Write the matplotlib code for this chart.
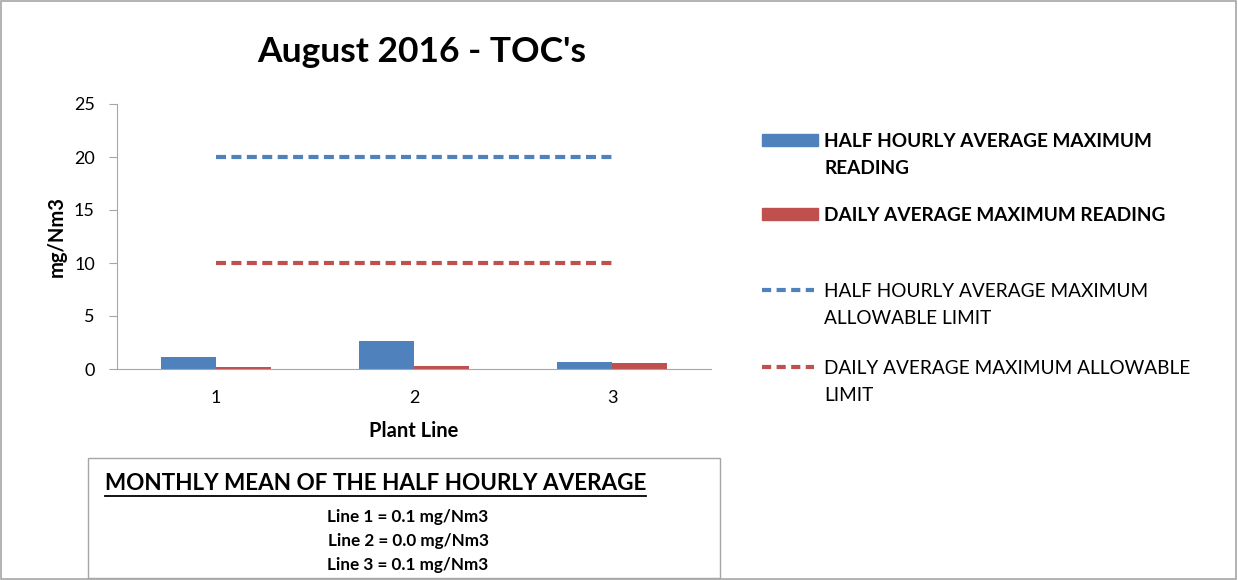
import numpy as np
import matplotlib
matplotlib.use("Agg")
import matplotlib.pyplot as plt
from matplotlib.lines import Line2D
from matplotlib.patches import Rectangle

plt.rcParams["font.family"] = ["Lato", "DejaVu Sans"]

# data
plant_lines = [1, 2, 3]
half_hourly_max = [1.1, 2.6, 0.7]
daily_max = [0.15, 0.25, 0.55]
half_hourly_limit = [20, 20, 20]
daily_limit = [10, 10, 10]
monthly_mean = ["Line 1 = 0.1 mg/Nm3", "Line 2 = 0.0 mg/Nm3", "Line 3 = 0.1 mg/Nm3"]

BLUE = "#4f81bd"
RED = "#c0504d"
GRAY = "#a6a6a6"

W, H = 1238, 580
fig = plt.figure(figsize=(W / 100, H / 100), dpi=100)


def fx(px):
    return px / W


def fy(py):
    return 1 - py / H


ax = fig.add_axes([fx(117), fy(369), fx(711) - fx(117), fy(104) - fy(369)])
x = np.array(plant_lines)
bw = 0.28
ax.bar(x - bw / 2, half_hourly_max, width=bw, color=BLUE)
ax.bar(x + bw / 2, daily_max, width=bw, color=RED)
ax.plot(x, half_hourly_limit, color=BLUE, lw=3, ls=(0, (2.4, 1.3)))
ax.plot(x, daily_limit, color=RED, lw=3, ls=(0, (2.4, 1.3)))

ax.set_xlim(0.5, 3.5)
ax.set_ylim(0, 25)
ax.set_yticks([0, 5, 10, 15, 20, 25])
ax.set_xticks(plant_lines)
ax.tick_params(axis="x", length=0, labelsize=13, pad=15)
ax.tick_params(axis="y", length=6, color=GRAY, labelsize=13, pad=10)
for s in ["top", "right"]:
    ax.spines[s].set_visible(False)
for s in ["left", "bottom"]:
    ax.spines[s].set_color(GRAY)
ax.set_xlabel("Plant Line", fontsize=14.5, fontweight="bold", labelpad=11)
ax.set_ylabel("mg/Nm3", fontsize=14.5, fontweight="bold", labelpad=5)

fig.text(fx(422), fy(52), "August 2016 - TOC's", fontsize=25.5, fontweight="bold",
         ha="center", va="center")

# legend drawn by hand to match spacing
leg_items = [
    ("bar", BLUE, "HALF HOURLY AVERAGE MAXIMUM\nREADING", "bold", 140),
    ("bar", RED, "DAILY AVERAGE MAXIMUM READING", "bold", 214),
    ("line", BLUE, "HALF HOURLY AVERAGE MAXIMUM\nALLOWABLE LIMIT", "normal", 290),
    ("line", RED, "DAILY AVERAGE MAXIMUM ALLOWABLE\nLIMIT", "normal", 367),
]
for kind, col, label, weight, ypx in leg_items:
    if kind == "bar":
        fig.add_artist(Rectangle((fx(762), fy(ypx + 6)), fx(818) - fx(762), fy(ypx - 6) - fy(ypx + 6),
                                 color=col, transform=fig.transFigure))
    else:
        fig.add_artist(Line2D([fx(762), fx(814)], [fy(ypx), fy(ypx)], color=col, lw=3,
                              ls=(0, (2.2, 1.3)), transform=fig.transFigure))
    fig.text(fx(824), fy(ypx - 7), label, fontsize=13.7, fontweight=weight,
             ha="left", va="top", linespacing=1.7)

# text box with monthly means
fig.add_artist(Rectangle((fx(88), fy(578)), fx(720) - fx(88), fy(458) - fy(578),
                         fill=False, edgecolor=GRAY, lw=1, transform=fig.transFigure))
head = fig.text(fx(105), fy(484), "MONTHLY MEAN OF THE HALF HOURLY AVERAGE", fontsize=16.2,
                fontweight="bold", ha="left", va="center")
fig.canvas.draw()
bb = head.get_window_extent().transformed(fig.transFigure.inverted())
fig.add_artist(Line2D([bb.x0, bb.x1], [bb.y0 - 0.002, bb.y0 - 0.002], color="black", lw=1.3,
                      transform=fig.transFigure))
for i, line in enumerate(monthly_mean):
    fig.text(fx(408), fy(517 + 24 * i), line, fontsize=12.3, fontweight="bold",
             ha="center", va="center")

# outer frame
fig.add_artist(Rectangle((0.001, 0.001), 0.997, 0.997, fill=False, edgecolor=GRAY, lw=1.2,
                         transform=fig.transFigure))

fig.savefig("out.png", dpi=100)
